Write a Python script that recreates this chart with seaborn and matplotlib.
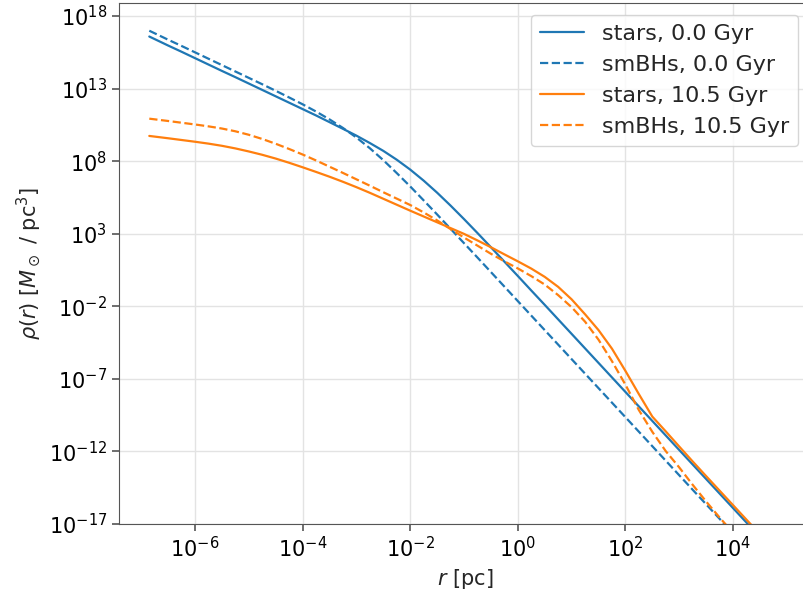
import matplotlib
matplotlib.use("Agg")
import numpy as np
import pandas as pd
import seaborn as sns
import matplotlib.pyplot as plt

# radius grid, log10(r / pc)
log_r = [-6.85, -6.5, -6.25, -6.0, -5.75, -5.5, -5.25, -5.0, -4.75, -4.5, -4.25,
         -4.0, -3.75, -3.5, -3.25, -3.0, -2.75, -2.5, -2.25, -2.0, -1.75, -1.5,
         -1.25, -1.0, -0.75, -0.5, -0.25, 0.0, 0.25, 0.5, 0.75, 1.0, 1.25, 1.5,
         1.75, 2.0, 2.25, 2.5, 2.75, 3.0, 3.25, 3.5, 3.75, 4.0, 4.25, 4.5]

# log10 density [Msun / pc^3]
log_rho_stars_0 = [16.59, 15.97, 15.54, 15.10, 14.66, 14.22, 13.79, 13.35, 12.91, 12.47, 12.03,
                   11.59, 11.15, 10.69, 10.23, 9.76, 9.25, 8.71, 8.10, 7.42, 6.66, 5.83,
                   4.94, 4.01, 3.05, 2.07, 1.08, 0.09, -0.91, -1.90, -2.90, -3.90, -4.90, -5.90,
                   -6.90, -7.90, -8.90, -9.90, -10.90, -11.90, -12.90, -13.90, -14.90, -15.90, -16.90, -17.90]
log_rho_bh_0 = [16.99, 16.37, 15.94, 15.50, 15.06, 14.62, 14.18, 13.74, 13.30, 12.85, 12.39,
                11.92, 11.42, 10.88, 10.29, 9.63, 8.89, 8.07, 7.18, 6.26, 5.30, 4.33,
                3.34, 2.35, 1.36, 0.36, -0.64, -1.64, -2.64, -3.64, -4.64, -5.64, -6.64, -7.64,
                -8.64, -9.64, -10.64, -11.64, -12.64, -13.64, -14.64, -15.64, -16.64, -17.64, -18.64, -19.64]
log_rho_stars_105 = [9.74, 9.58, 9.46, 9.34, 9.21, 9.06, 8.88, 8.67, 8.44, 8.18, 7.89,
                     7.58, 7.26, 6.93, 6.58, 6.21, 5.82, 5.41, 5.00, 4.59, 4.19, 3.79,
                     3.39, 2.99, 2.54, 2.07, 1.58, 1.10, 0.60, 0.03, -0.66, -1.52, -2.55, -3.64,
                     -4.92, -6.45, -8.05, -9.60, -10.62, -11.66, -12.69, -13.70, -14.70, -15.70, -16.70, -17.70]
log_rho_bh_105 = [10.93, 10.77, 10.65, 10.53, 10.40, 10.25, 10.06, 9.82, 9.53, 9.20, 8.84,
                  8.46, 8.05, 7.62, 7.19, 6.75, 6.31, 5.86, 5.42, 4.98, 4.47, 3.92,
                  3.32, 2.74, 2.18, 1.62, 1.10, 0.61, 0.08, -0.50, -1.23, -2.06, -3.06, -4.30,
                  -5.78, -7.40, -9.15, -10.65, -11.98, -13.10, -14.30, -15.45, -16.55, -17.60, -18.65, -19.70]

labels = ["stars, 0.0 Gyr", "smBHs, 0.0 Gyr", "stars, 10.5 Gyr", "smBHs, 10.5 Gyr"]
colors = ["#1f77b4", "#1f77b4", "#ff7f0e", "#ff7f0e"]
styles = ["-", "--", "-", "--"]
profiles = [log_rho_stars_0, log_rho_bh_0, log_rho_stars_105, log_rho_bh_105]

sns.set_style("whitegrid", {
    "axes.edgecolor": "#555555",
    "grid.color": "#e3e3e3",
    "xtick.bottom": True,
    "ytick.left": True,
    "axes.linewidth": 1.3,
})
plt.rcParams["font.family"] = ["DejaVu Sans"]
plt.rcParams["mathtext.fontset"] = "dejavusans"

fig = plt.figure(figsize=(8.04, 5.98), dpi=100)
ax = fig.add_axes([119 / 804, 74 / 598, (812 - 119) / 804, (595 - 74) / 598])

r = 10.0 ** np.array(log_r)
for vals, c, ls, lab in zip(profiles, colors, styles, labels):
    sns.lineplot(x=r, y=10.0 ** np.array(vals), ax=ax, color=c, linestyle=ls,
                 linewidth=1.6, label=lab, sort=False, estimator=None)

ax.set_xscale("log")
ax.set_yscale("log")
ax.set_xlim(10 ** -7.413, 10 ** 5.468)
ax.set_ylim(1e-17, 10 ** 18.9)
ax.set_xticks([10.0 ** k for k in range(-6, 5, 2)])
ax.set_yticks([10.0 ** k for k in range(-17, 19, 5)])
ax.minorticks_off()
ax.tick_params(axis="both", which="major", labelsize=15, length=5, width=1.2,
               color="#555555", labelcolor="black", direction="out")
ax.grid(True, color="#e3e3e3", linewidth=1.0)

ax.set_xlabel(r"$r$ [pc]", fontsize=15)
ax.set_ylabel(r"$\rho(r)$ [$M_\odot$ / pc$^3$]", fontsize=15)

leg = ax.legend(loc="upper right", bbox_to_anchor=(798 / 804, 1 - 15 / 598),
                bbox_transform=fig.transFigure, borderaxespad=0, fontsize=16,
                frameon=True, fancybox=True, framealpha=0.8)
leg.get_frame().set_edgecolor("#cccccc")

fig.savefig("out.png", dpi=100)
